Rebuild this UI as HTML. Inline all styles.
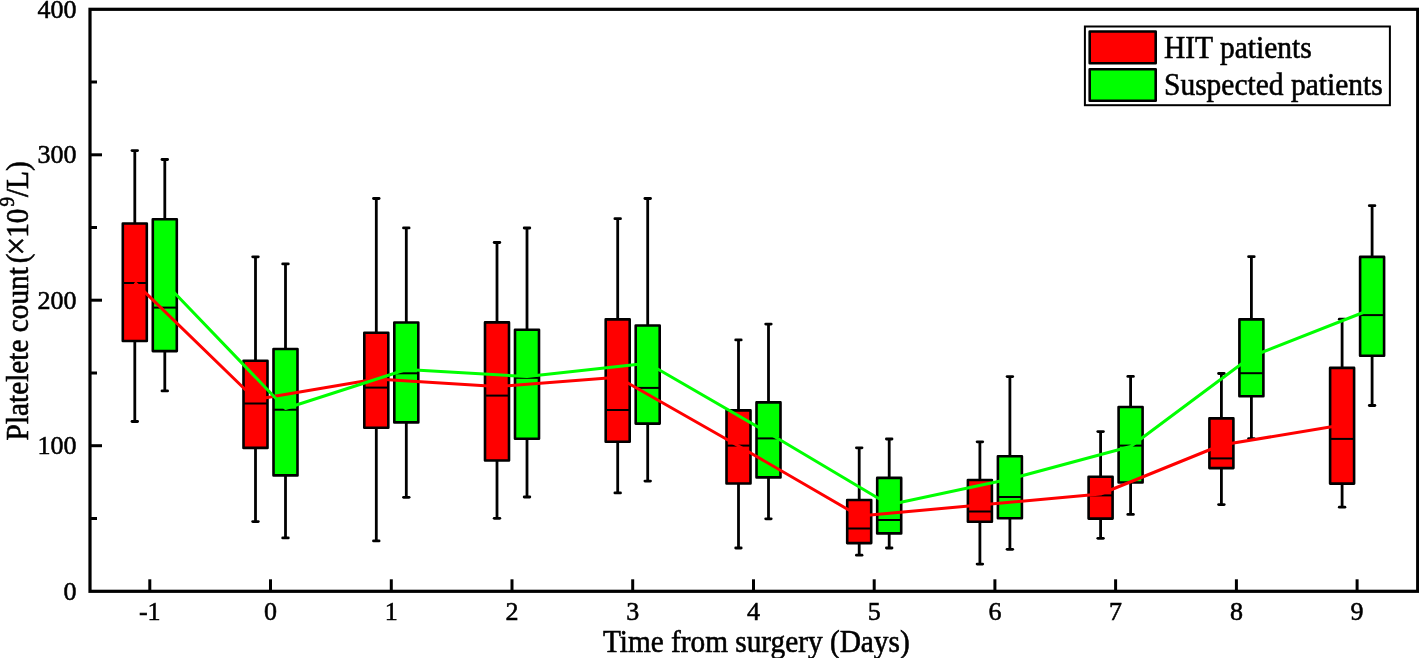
<!DOCTYPE html>
<html><head><meta charset="utf-8"><style>
html,body{margin:0;padding:0;background:#fff;}
svg{display:block;will-change:transform;}
text{stroke:#000;stroke-width:0.55px;}
</style></head><body>
<svg width="1419" height="658" viewBox="0 0 1419 658">
<rect width="1419" height="658" fill="#fff"/>
<line x1="134.8" y1="150.6" x2="134.8" y2="223.5" stroke="#000" stroke-width="2.8"/>
<line x1="134.8" y1="341.0" x2="134.8" y2="421.5" stroke="#000" stroke-width="2.8"/>
<line x1="132.0" y1="150.6" x2="137.6" y2="150.6" stroke="#000" stroke-width="2.8" stroke-linecap="round"/>
<line x1="132.0" y1="421.5" x2="137.6" y2="421.5" stroke="#000" stroke-width="2.8" stroke-linecap="round"/>
<rect x="122.8" y="223.5" width="24.0" height="117.5" fill="#ff0000" stroke="#000" stroke-width="2.6" stroke-linejoin="round"/>
<line x1="122.8" y1="283.0" x2="146.8" y2="283.0" stroke="#000" stroke-width="2"/>
<line x1="164.8" y1="159.5" x2="164.8" y2="219.2" stroke="#000" stroke-width="2.8"/>
<line x1="164.8" y1="351.1" x2="164.8" y2="390.9" stroke="#000" stroke-width="2.8"/>
<line x1="162.0" y1="159.5" x2="167.6" y2="159.5" stroke="#000" stroke-width="2.8" stroke-linecap="round"/>
<line x1="162.0" y1="390.9" x2="167.6" y2="390.9" stroke="#000" stroke-width="2.8" stroke-linecap="round"/>
<rect x="152.8" y="219.2" width="24.0" height="131.9" fill="#00ff00" stroke="#000" stroke-width="2.6" stroke-linejoin="round"/>
<line x1="152.8" y1="307.6" x2="176.8" y2="307.6" stroke="#000" stroke-width="2"/>
<line x1="255.5" y1="256.8" x2="255.5" y2="360.8" stroke="#000" stroke-width="2.8"/>
<line x1="255.5" y1="447.9" x2="255.5" y2="521.6" stroke="#000" stroke-width="2.8"/>
<line x1="252.7" y1="256.8" x2="258.3" y2="256.8" stroke="#000" stroke-width="2.8" stroke-linecap="round"/>
<line x1="252.7" y1="521.6" x2="258.3" y2="521.6" stroke="#000" stroke-width="2.8" stroke-linecap="round"/>
<rect x="243.5" y="360.8" width="24.0" height="87.1" fill="#ff0000" stroke="#000" stroke-width="2.6" stroke-linejoin="round"/>
<line x1="243.5" y1="403.5" x2="267.5" y2="403.5" stroke="#000" stroke-width="2"/>
<line x1="285.5" y1="263.9" x2="285.5" y2="349.0" stroke="#000" stroke-width="2.8"/>
<line x1="285.5" y1="475.4" x2="285.5" y2="537.9" stroke="#000" stroke-width="2.8"/>
<line x1="282.7" y1="263.9" x2="288.3" y2="263.9" stroke="#000" stroke-width="2.8" stroke-linecap="round"/>
<line x1="282.7" y1="537.9" x2="288.3" y2="537.9" stroke="#000" stroke-width="2.8" stroke-linecap="round"/>
<rect x="273.5" y="349.0" width="24.0" height="126.4" fill="#00ff00" stroke="#000" stroke-width="2.6" stroke-linejoin="round"/>
<line x1="273.5" y1="409.7" x2="297.5" y2="409.7" stroke="#000" stroke-width="2"/>
<line x1="376.3" y1="198.5" x2="376.3" y2="332.8" stroke="#000" stroke-width="2.8"/>
<line x1="376.3" y1="427.7" x2="376.3" y2="540.9" stroke="#000" stroke-width="2.8"/>
<line x1="373.5" y1="198.5" x2="379.1" y2="198.5" stroke="#000" stroke-width="2.8" stroke-linecap="round"/>
<line x1="373.5" y1="540.9" x2="379.1" y2="540.9" stroke="#000" stroke-width="2.8" stroke-linecap="round"/>
<rect x="364.3" y="332.8" width="24.0" height="94.9" fill="#ff0000" stroke="#000" stroke-width="2.6" stroke-linejoin="round"/>
<line x1="364.3" y1="387.6" x2="388.3" y2="387.6" stroke="#000" stroke-width="2"/>
<line x1="406.3" y1="227.9" x2="406.3" y2="322.5" stroke="#000" stroke-width="2.8"/>
<line x1="406.3" y1="422.4" x2="406.3" y2="497.3" stroke="#000" stroke-width="2.8"/>
<line x1="403.5" y1="227.9" x2="409.1" y2="227.9" stroke="#000" stroke-width="2.8" stroke-linecap="round"/>
<line x1="403.5" y1="497.3" x2="409.1" y2="497.3" stroke="#000" stroke-width="2.8" stroke-linecap="round"/>
<rect x="394.3" y="322.5" width="24.0" height="99.9" fill="#00ff00" stroke="#000" stroke-width="2.6" stroke-linejoin="round"/>
<line x1="394.3" y1="373.3" x2="418.3" y2="373.3" stroke="#000" stroke-width="2"/>
<line x1="497.0" y1="242.5" x2="497.0" y2="322.4" stroke="#000" stroke-width="2.8"/>
<line x1="497.0" y1="460.5" x2="497.0" y2="518.3" stroke="#000" stroke-width="2.8"/>
<line x1="494.2" y1="242.5" x2="499.8" y2="242.5" stroke="#000" stroke-width="2.8" stroke-linecap="round"/>
<line x1="494.2" y1="518.3" x2="499.8" y2="518.3" stroke="#000" stroke-width="2.8" stroke-linecap="round"/>
<rect x="485.0" y="322.4" width="24.0" height="138.1" fill="#ff0000" stroke="#000" stroke-width="2.6" stroke-linejoin="round"/>
<line x1="485.0" y1="395.6" x2="509.0" y2="395.6" stroke="#000" stroke-width="2"/>
<line x1="527.0" y1="228.0" x2="527.0" y2="329.7" stroke="#000" stroke-width="2.8"/>
<line x1="527.0" y1="438.8" x2="527.0" y2="497.0" stroke="#000" stroke-width="2.8"/>
<line x1="524.2" y1="228.0" x2="529.8" y2="228.0" stroke="#000" stroke-width="2.8" stroke-linecap="round"/>
<line x1="524.2" y1="497.0" x2="529.8" y2="497.0" stroke="#000" stroke-width="2.8" stroke-linecap="round"/>
<rect x="515.0" y="329.7" width="24.0" height="109.1" fill="#00ff00" stroke="#000" stroke-width="2.6" stroke-linejoin="round"/>
<line x1="515.0" y1="377.8" x2="539.0" y2="377.8" stroke="#000" stroke-width="2"/>
<line x1="617.7" y1="218.7" x2="617.7" y2="319.4" stroke="#000" stroke-width="2.8"/>
<line x1="617.7" y1="441.7" x2="617.7" y2="492.9" stroke="#000" stroke-width="2.8"/>
<line x1="614.9" y1="218.7" x2="620.5" y2="218.7" stroke="#000" stroke-width="2.8" stroke-linecap="round"/>
<line x1="614.9" y1="492.9" x2="620.5" y2="492.9" stroke="#000" stroke-width="2.8" stroke-linecap="round"/>
<rect x="605.7" y="319.4" width="24.0" height="122.3" fill="#ff0000" stroke="#000" stroke-width="2.6" stroke-linejoin="round"/>
<line x1="605.7" y1="410.0" x2="629.7" y2="410.0" stroke="#000" stroke-width="2"/>
<line x1="647.7" y1="198.5" x2="647.7" y2="325.5" stroke="#000" stroke-width="2.8"/>
<line x1="647.7" y1="423.6" x2="647.7" y2="481.1" stroke="#000" stroke-width="2.8"/>
<line x1="644.9" y1="198.5" x2="650.5" y2="198.5" stroke="#000" stroke-width="2.8" stroke-linecap="round"/>
<line x1="644.9" y1="481.1" x2="650.5" y2="481.1" stroke="#000" stroke-width="2.8" stroke-linecap="round"/>
<rect x="635.7" y="325.5" width="24.0" height="98.1" fill="#00ff00" stroke="#000" stroke-width="2.6" stroke-linejoin="round"/>
<line x1="635.7" y1="387.9" x2="659.7" y2="387.9" stroke="#000" stroke-width="2"/>
<line x1="738.5" y1="339.9" x2="738.5" y2="410.4" stroke="#000" stroke-width="2.8"/>
<line x1="738.5" y1="483.5" x2="738.5" y2="548.0" stroke="#000" stroke-width="2.8"/>
<line x1="735.7" y1="339.9" x2="741.2" y2="339.9" stroke="#000" stroke-width="2.8" stroke-linecap="round"/>
<line x1="735.7" y1="548.0" x2="741.2" y2="548.0" stroke="#000" stroke-width="2.8" stroke-linecap="round"/>
<rect x="726.5" y="410.4" width="24.0" height="73.1" fill="#ff0000" stroke="#000" stroke-width="2.6" stroke-linejoin="round"/>
<line x1="726.5" y1="445.6" x2="750.5" y2="445.6" stroke="#000" stroke-width="2"/>
<line x1="768.5" y1="324.1" x2="768.5" y2="402.4" stroke="#000" stroke-width="2.8"/>
<line x1="768.5" y1="477.4" x2="768.5" y2="518.8" stroke="#000" stroke-width="2.8"/>
<line x1="765.7" y1="324.1" x2="771.2" y2="324.1" stroke="#000" stroke-width="2.8" stroke-linecap="round"/>
<line x1="765.7" y1="518.8" x2="771.2" y2="518.8" stroke="#000" stroke-width="2.8" stroke-linecap="round"/>
<rect x="756.5" y="402.4" width="24.0" height="75.0" fill="#00ff00" stroke="#000" stroke-width="2.6" stroke-linejoin="round"/>
<line x1="756.5" y1="438.4" x2="780.5" y2="438.4" stroke="#000" stroke-width="2"/>
<line x1="859.2" y1="447.8" x2="859.2" y2="500.0" stroke="#000" stroke-width="2.8"/>
<line x1="859.2" y1="543.1" x2="859.2" y2="555.2" stroke="#000" stroke-width="2.8"/>
<line x1="856.4" y1="447.8" x2="862.0" y2="447.8" stroke="#000" stroke-width="2.8" stroke-linecap="round"/>
<line x1="856.4" y1="555.2" x2="862.0" y2="555.2" stroke="#000" stroke-width="2.8" stroke-linecap="round"/>
<rect x="847.2" y="500.0" width="24.0" height="43.1" fill="#ff0000" stroke="#000" stroke-width="2.6" stroke-linejoin="round"/>
<line x1="847.2" y1="528.5" x2="871.2" y2="528.5" stroke="#000" stroke-width="2"/>
<line x1="889.2" y1="439.0" x2="889.2" y2="477.9" stroke="#000" stroke-width="2.8"/>
<line x1="889.2" y1="533.4" x2="889.2" y2="548.0" stroke="#000" stroke-width="2.8"/>
<line x1="886.4" y1="439.0" x2="892.0" y2="439.0" stroke="#000" stroke-width="2.8" stroke-linecap="round"/>
<line x1="886.4" y1="548.0" x2="892.0" y2="548.0" stroke="#000" stroke-width="2.8" stroke-linecap="round"/>
<rect x="877.2" y="477.9" width="24.0" height="55.5" fill="#00ff00" stroke="#000" stroke-width="2.6" stroke-linejoin="round"/>
<line x1="877.2" y1="520.0" x2="901.2" y2="520.0" stroke="#000" stroke-width="2"/>
<line x1="979.9" y1="441.8" x2="979.9" y2="480.0" stroke="#000" stroke-width="2.8"/>
<line x1="979.9" y1="521.8" x2="979.9" y2="564.1" stroke="#000" stroke-width="2.8"/>
<line x1="977.1" y1="441.8" x2="982.7" y2="441.8" stroke="#000" stroke-width="2.8" stroke-linecap="round"/>
<line x1="977.1" y1="564.1" x2="982.7" y2="564.1" stroke="#000" stroke-width="2.8" stroke-linecap="round"/>
<rect x="967.9" y="480.0" width="24.0" height="41.8" fill="#ff0000" stroke="#000" stroke-width="2.6" stroke-linejoin="round"/>
<line x1="967.9" y1="511.5" x2="991.9" y2="511.5" stroke="#000" stroke-width="2"/>
<line x1="1009.9" y1="376.6" x2="1009.9" y2="456.3" stroke="#000" stroke-width="2.8"/>
<line x1="1009.9" y1="518.2" x2="1009.9" y2="549.3" stroke="#000" stroke-width="2.8"/>
<line x1="1007.1" y1="376.6" x2="1012.7" y2="376.6" stroke="#000" stroke-width="2.8" stroke-linecap="round"/>
<line x1="1007.1" y1="549.3" x2="1012.7" y2="549.3" stroke="#000" stroke-width="2.8" stroke-linecap="round"/>
<rect x="997.9" y="456.3" width="24.0" height="61.9" fill="#00ff00" stroke="#000" stroke-width="2.6" stroke-linejoin="round"/>
<line x1="997.9" y1="497.0" x2="1021.9" y2="497.0" stroke="#000" stroke-width="2"/>
<line x1="1100.6" y1="431.6" x2="1100.6" y2="476.7" stroke="#000" stroke-width="2.8"/>
<line x1="1100.6" y1="518.6" x2="1100.6" y2="538.3" stroke="#000" stroke-width="2.8"/>
<line x1="1097.8" y1="431.6" x2="1103.4" y2="431.6" stroke="#000" stroke-width="2.8" stroke-linecap="round"/>
<line x1="1097.8" y1="538.3" x2="1103.4" y2="538.3" stroke="#000" stroke-width="2.8" stroke-linecap="round"/>
<rect x="1088.6" y="476.7" width="24.0" height="41.9" fill="#ff0000" stroke="#000" stroke-width="2.6" stroke-linejoin="round"/>
<line x1="1088.6" y1="495.4" x2="1112.6" y2="495.4" stroke="#000" stroke-width="2"/>
<line x1="1130.6" y1="376.4" x2="1130.6" y2="407.0" stroke="#000" stroke-width="2.8"/>
<line x1="1130.6" y1="482.5" x2="1130.6" y2="514.4" stroke="#000" stroke-width="2.8"/>
<line x1="1127.8" y1="376.4" x2="1133.4" y2="376.4" stroke="#000" stroke-width="2.8" stroke-linecap="round"/>
<line x1="1127.8" y1="514.4" x2="1133.4" y2="514.4" stroke="#000" stroke-width="2.8" stroke-linecap="round"/>
<rect x="1118.6" y="407.0" width="24.0" height="75.5" fill="#00ff00" stroke="#000" stroke-width="2.6" stroke-linejoin="round"/>
<line x1="1118.6" y1="445.6" x2="1142.6" y2="445.6" stroke="#000" stroke-width="2"/>
<line x1="1221.4" y1="373.5" x2="1221.4" y2="418.4" stroke="#000" stroke-width="2.8"/>
<line x1="1221.4" y1="468.1" x2="1221.4" y2="504.6" stroke="#000" stroke-width="2.8"/>
<line x1="1218.6" y1="373.5" x2="1224.2" y2="373.5" stroke="#000" stroke-width="2.8" stroke-linecap="round"/>
<line x1="1218.6" y1="504.6" x2="1224.2" y2="504.6" stroke="#000" stroke-width="2.8" stroke-linecap="round"/>
<rect x="1209.4" y="418.4" width="24.0" height="49.7" fill="#ff0000" stroke="#000" stroke-width="2.6" stroke-linejoin="round"/>
<line x1="1209.4" y1="458.4" x2="1233.4" y2="458.4" stroke="#000" stroke-width="2"/>
<line x1="1251.4" y1="256.7" x2="1251.4" y2="319.4" stroke="#000" stroke-width="2.8"/>
<line x1="1251.4" y1="396.3" x2="1251.4" y2="438.6" stroke="#000" stroke-width="2.8"/>
<line x1="1248.6" y1="256.7" x2="1254.2" y2="256.7" stroke="#000" stroke-width="2.8" stroke-linecap="round"/>
<line x1="1248.6" y1="438.6" x2="1254.2" y2="438.6" stroke="#000" stroke-width="2.8" stroke-linecap="round"/>
<rect x="1239.4" y="319.4" width="24.0" height="76.9" fill="#00ff00" stroke="#000" stroke-width="2.6" stroke-linejoin="round"/>
<line x1="1239.4" y1="373.2" x2="1263.4" y2="373.2" stroke="#000" stroke-width="2"/>
<line x1="1342.1" y1="319.2" x2="1342.1" y2="367.9" stroke="#000" stroke-width="2.8"/>
<line x1="1342.1" y1="483.6" x2="1342.1" y2="507.2" stroke="#000" stroke-width="2.8"/>
<line x1="1339.3" y1="319.2" x2="1344.9" y2="319.2" stroke="#000" stroke-width="2.8" stroke-linecap="round"/>
<line x1="1339.3" y1="507.2" x2="1344.9" y2="507.2" stroke="#000" stroke-width="2.8" stroke-linecap="round"/>
<rect x="1330.1" y="367.9" width="24.0" height="115.7" fill="#ff0000" stroke="#000" stroke-width="2.6" stroke-linejoin="round"/>
<line x1="1330.1" y1="438.9" x2="1354.1" y2="438.9" stroke="#000" stroke-width="2"/>
<line x1="1372.1" y1="205.7" x2="1372.1" y2="256.9" stroke="#000" stroke-width="2.8"/>
<line x1="1372.1" y1="355.7" x2="1372.1" y2="405.5" stroke="#000" stroke-width="2.8"/>
<line x1="1369.3" y1="205.7" x2="1374.9" y2="205.7" stroke="#000" stroke-width="2.8" stroke-linecap="round"/>
<line x1="1369.3" y1="405.5" x2="1374.9" y2="405.5" stroke="#000" stroke-width="2.8" stroke-linecap="round"/>
<rect x="1360.1" y="256.9" width="24.0" height="98.8" fill="#00ff00" stroke="#000" stroke-width="2.6" stroke-linejoin="round"/>
<line x1="1360.1" y1="315.1" x2="1384.1" y2="315.1" stroke="#000" stroke-width="2"/>
<polyline points="134.8,282.4 255.5,399.5 376.3,379.0 497.0,386.6 617.7,377.3 738.5,446.0 859.2,516.0 979.9,505.0 1100.6,494.0 1221.4,445.0 1342.1,425.0" fill="none" stroke="#ff0000" stroke-width="3" stroke-linejoin="round"/>
<polyline points="164.8,282.8 285.5,408.5 406.3,369.5 527.0,376.5 647.7,363.3 768.5,433.0 889.2,504.8 1009.9,479.0 1130.6,446.5 1251.4,356.5 1372.1,309.0" fill="none" stroke="#00ff00" stroke-width="3" stroke-linejoin="round"/>
<rect x="90.0" y="9.3" width="1327.7" height="582.0" fill="none" stroke="#000" stroke-width="3.2"/>
<line x1="90.0" y1="518.5" x2="97.0" y2="518.5" stroke="#000" stroke-width="3"/>
<line x1="90.0" y1="445.7" x2="102.0" y2="445.7" stroke="#000" stroke-width="3"/>
<line x1="90.0" y1="373.0" x2="97.0" y2="373.0" stroke="#000" stroke-width="3"/>
<line x1="90.0" y1="300.2" x2="102.0" y2="300.2" stroke="#000" stroke-width="3"/>
<line x1="90.0" y1="227.5" x2="97.0" y2="227.5" stroke="#000" stroke-width="3"/>
<line x1="90.0" y1="154.8" x2="102.0" y2="154.8" stroke="#000" stroke-width="3"/>
<line x1="90.0" y1="82.0" x2="97.0" y2="82.0" stroke="#000" stroke-width="3"/>
<line x1="149.8" y1="591.3" x2="149.8" y2="579.3" stroke="#000" stroke-width="3"/>
<line x1="270.5" y1="591.3" x2="270.5" y2="579.3" stroke="#000" stroke-width="3"/>
<line x1="391.3" y1="591.3" x2="391.3" y2="579.3" stroke="#000" stroke-width="3"/>
<line x1="512.0" y1="591.3" x2="512.0" y2="579.3" stroke="#000" stroke-width="3"/>
<line x1="632.7" y1="591.3" x2="632.7" y2="579.3" stroke="#000" stroke-width="3"/>
<line x1="753.5" y1="591.3" x2="753.5" y2="579.3" stroke="#000" stroke-width="3"/>
<line x1="874.2" y1="591.3" x2="874.2" y2="579.3" stroke="#000" stroke-width="3"/>
<line x1="994.9" y1="591.3" x2="994.9" y2="579.3" stroke="#000" stroke-width="3"/>
<line x1="1115.6" y1="591.3" x2="1115.6" y2="579.3" stroke="#000" stroke-width="3"/>
<line x1="1236.4" y1="591.3" x2="1236.4" y2="579.3" stroke="#000" stroke-width="3"/>
<line x1="1357.1" y1="591.3" x2="1357.1" y2="579.3" stroke="#000" stroke-width="3"/>
<text x="76.6" y="599.5" font-family="Liberation Serif" font-size="26" text-anchor="end">0</text>
<text x="76.6" y="454.0" font-family="Liberation Serif" font-size="26" text-anchor="end">100</text>
<text x="76.6" y="308.5" font-family="Liberation Serif" font-size="26" text-anchor="end">200</text>
<text x="76.6" y="163.1" font-family="Liberation Serif" font-size="26" text-anchor="end">300</text>
<text x="76.6" y="17.6" font-family="Liberation Serif" font-size="26" text-anchor="end">400</text>
<text x="149.8" y="620" font-family="Liberation Serif" font-size="26" text-anchor="middle">-1</text>
<text x="270.5" y="620" font-family="Liberation Serif" font-size="26" text-anchor="middle">0</text>
<text x="391.3" y="620" font-family="Liberation Serif" font-size="26" text-anchor="middle">1</text>
<text x="512.0" y="620" font-family="Liberation Serif" font-size="26" text-anchor="middle">2</text>
<text x="632.7" y="620" font-family="Liberation Serif" font-size="26" text-anchor="middle">3</text>
<text x="753.5" y="620" font-family="Liberation Serif" font-size="26" text-anchor="middle">4</text>
<text x="874.2" y="620" font-family="Liberation Serif" font-size="26" text-anchor="middle">5</text>
<text x="994.9" y="620" font-family="Liberation Serif" font-size="26" text-anchor="middle">6</text>
<text x="1115.6" y="620" font-family="Liberation Serif" font-size="26" text-anchor="middle">7</text>
<text x="1236.4" y="620" font-family="Liberation Serif" font-size="26" text-anchor="middle">8</text>
<text x="1357.1" y="620" font-family="Liberation Serif" font-size="26" text-anchor="middle">9</text>
<text transform="translate(756.3,651.8) scale(1,1.07)" font-family="Liberation Serif" font-size="29.3" text-anchor="middle">Time from surgery (Days)</text>
<text transform="translate(28,440.4) rotate(-90) scale(1,1.07)" font-family="Liberation Serif" font-size="29.3">Platelete count<tspan dx="4">(</tspan><tspan font-size="33" dx="-2">×</tspan><tspan dx="-1">10</tspan><tspan dy="-13.4" font-size="19" dx="2">9</tspan><tspan dy="13.4" dx="0">/L)</tspan></text>
<rect x="1084.9" y="26.5" width="305" height="78.7" fill="#fff" stroke="#000" stroke-width="2"/>
<rect x="1089.7" y="31.5" width="66" height="31.8" fill="#ff0000" stroke="#000" stroke-width="2.6" stroke-linejoin="round"/>
<rect x="1089.7" y="69.2" width="66" height="31.5" fill="#00ff00" stroke="#000" stroke-width="2.6" stroke-linejoin="round"/>
<text transform="translate(1164,57.5) scale(1,1.045)" font-family="Liberation Serif" font-size="29.5">HIT patients</text>
<text transform="translate(1164,94.7) scale(1,1.045)" font-family="Liberation Serif" font-size="29.5">Suspected patients</text>
</svg>
</body></html>
